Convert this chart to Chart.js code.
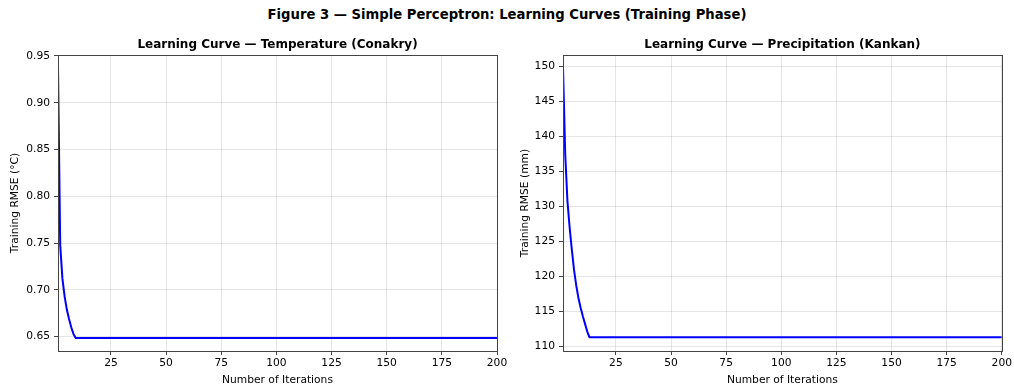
<!DOCTYPE html>
<html>
<head>
<meta charset="utf-8">
<script src="https://cdn.jsdelivr.net/npm/chart.js@4.4.1/dist/chart.umd.min.js"></script>
<style>
  html, body { margin: 0; padding: 0; background: #fff; }
  body { width: 1014px; height: 387px; position: relative; overflow: hidden; font-family: "DejaVu Sans", sans-serif; }
  #suptitle { position: absolute; left: 0; top: 7px; width: 1014px; text-align: center; font-weight: bold; font-size: 13.2px; color: #000; }
  .panel { position: absolute; top: 28px; height: 359px; }
  #left { left: 0; width: 510px; }
  #right { left: 510px; width: 504px; }
</style>
</head>
<body>
<div id="suptitle">Figure 3 — Simple Perceptron: Learning Curves (Training Phase)</div>
<div class="panel" id="left"><canvas id="tempChart"></canvas></div>
<div class="panel" id="right"><canvas id="precipChart"></canvas></div>
<script>
// values (plateau continues flat to the last iteration)
const tempIters = [1, 2, 3, 4, 5, 6, 7, 8, 9, 200];
const tempRmse = [0.9375, 0.748, 0.712, 0.693, 0.679, 0.669, 0.660, 0.653, 0.6485, 0.6485];

const precipIters = [1, 2, 3, 4, 5, 6, 7, 8, 9, 10, 11, 12, 13, 200];
const precipRmse = [149.9, 137.5, 130.8, 127.0, 123.8, 120.9, 118.7, 116.9, 115.5, 114.3, 113.2, 112.1, 111.3, 111.3];

const xTicks = [25, 50, 75, 100, 125, 150, 175, 200];
const tempYTicks = [0.65, 0.70, 0.75, 0.80, 0.85, 0.90, 0.95];
const precipYTicks = [110, 115, 120, 125, 130, 135, 140, 145, 150];

const FONT = "'DejaVu Sans', sans-serif";

// matplotlib-like frame round the plot area
const frameBox = {
  id: 'frameBox',
  afterDatasetsDraw(chart) {
    const a = chart.chartArea, ctx = chart.ctx;
    ctx.save();
    ctx.strokeStyle = '#444';
    ctx.lineWidth = 1;
    ctx.strokeRect(Math.round(a.left) + 0.5, Math.round(a.top) + 0.5, Math.round(a.right - a.left), Math.round(a.bottom - a.top));
    ctx.restore();
  }
};

function makeChart(id, title, yLabel, xs, ys, yTicks, yMin, yMax, yDecimals, yWidth, rightPad) {
  const pts = xs.map((x, i) => ({ x: x, y: ys[i] }));
  return new Chart(document.getElementById(id), {
    type: 'line',
    data: { datasets: [{ data: pts, borderColor: '#0000ff', borderWidth: 2, pointRadius: 0, tension: 0, fill: false }] },
    options: {
      responsive: true,
      maintainAspectRatio: false,
      animation: false,
      layout: { padding: { left: 0, right: rightPad, top: 0, bottom: 0 } },
      plugins: {
        legend: { display: false },
        tooltip: { enabled: false },
        title: { display: true, fullSize: false, text: title, color: '#000', font: { family: FONT, size: 12, weight: 'bold' }, padding: { top: 10, bottom: 2.6 } }
      },
      scales: {
        x: {
          type: 'linear', min: 1, max: 200,
          afterBuildTicks: (s) => { s.ticks = xTicks.map(v => ({ value: v })); },
          afterFit: (s) => { s.height = 36; },
          grid: { color: 'rgba(0,0,0,0.1)', tickColor: '#444', tickLength: 4, drawOnChartArea: true },
          border: { display: false },
          ticks: { color: '#000', font: { family: FONT, size: 10.7 }, padding: 2, maxRotation: 0 },
          title: { display: true, text: 'Number of Iterations', color: '#000', font: { family: FONT, size: 10.7 }, padding: { top: 1, bottom: 0 } }
        },
        y: {
          type: 'linear', min: yMin, max: yMax,
          afterBuildTicks: (s) => { s.ticks = yTicks.map(v => ({ value: v })); },
          afterFit: (s) => { s.width = yWidth; },
          grid: { color: 'rgba(0,0,0,0.1)', tickColor: '#444', tickLength: 4 },
          border: { display: false },
          ticks: { color: '#000', font: { family: FONT, size: 10.7 }, padding: 4, callback: (v) => v.toFixed(yDecimals) },
          title: { display: true, text: yLabel, color: '#000', font: { family: FONT, size: 10.7 }, padding: { top: 9, bottom: 2 } }
        }
      }
    },
    plugins: [frameBox]
  });
}

makeChart('tempChart', 'Learning Curve — Temperature (Conakry)', 'Training RMSE (°C)',
  tempIters, tempRmse, tempYTicks, 0.6347, 0.951, 2, 58, 13);
makeChart('precipChart', 'Learning Curve — Precipitation (Kankan)', 'Training RMSE (mm)',
  precipIters, precipRmse, precipYTicks, 109.33, 151.6, 0, 53, 11);
</script>
</body>
</html>
